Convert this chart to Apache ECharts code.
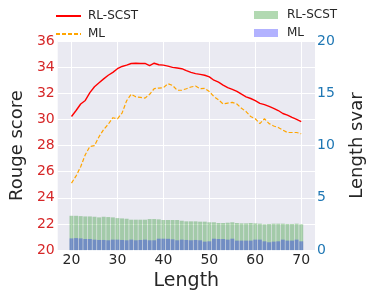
<!DOCTYPE html>
<html>
<head>
<meta charset="utf-8">
<script src="https://cdn.jsdelivr.net/npm/echarts@6/dist/echarts.min.js"></script>
<style>
html,body{margin:0;padding:0;background:#fff;}
#chart{width:374px;height:296px;}
</style>
</head>
<body>
<div id="chart"></div>
<script>
// Data
const lengths = [20,21,22,23,24,25,26,27,28,29,30,31,32,33,34,35,36,37,38,39,40,41,42,43,44,45,46,47,48,49,50,51,52,53,54,55,56,57,58,59,60,61,62,63,64,65,66,67,68,69,70];
const rougeRL = [30.22,30.68,31.18,31.45,32.05,32.5,32.8,33.1,33.38,33.6,33.88,34.05,34.15,34.28,34.3,34.28,34.28,34.12,34.3,34.18,34.15,34.08,33.98,33.93,33.88,33.73,33.6,33.5,33.45,33.38,33.25,33.0,32.85,32.63,32.43,32.3,32.15,31.93,31.73,31.6,31.43,31.23,31.13,31.0,30.85,30.68,30.45,30.33,30.15,30.0,29.83];
const rougeML = [25.12,25.68,26.38,27.3,27.93,28.0,28.68,29.23,29.63,30.13,30.05,30.48,31.43,31.93,31.73,31.68,31.63,31.92,32.35,32.4,32.43,32.73,32.6,32.23,32.23,32.35,32.48,32.55,32.35,32.38,32.13,31.75,31.5,31.18,31.25,31.3,31.18,30.85,30.6,30.22,30.05,29.68,30.05,29.68,29.5,29.38,29.18,29.0,29.0,29.0,28.9];
const svarRL = [3.28,3.28,3.25,3.22,3.22,3.19,3.13,3.19,3.16,3.13,3.06,3.03,3.0,2.91,2.91,2.91,2.91,2.97,2.97,2.94,2.88,2.88,2.88,2.88,2.81,2.75,2.75,2.75,2.72,2.72,2.66,2.66,2.59,2.59,2.62,2.66,2.59,2.56,2.56,2.59,2.56,2.53,2.47,2.5,2.53,2.53,2.53,2.5,2.5,2.53,2.47];
const svarML = [1.12,1.15,1.12,1.06,1.06,1.0,0.97,0.97,0.94,1.0,1.0,0.97,0.94,1.0,0.94,0.97,1.0,0.94,0.94,1.09,1.09,1.08,1.03,0.94,1.0,0.97,0.94,0.97,0.94,0.81,0.84,1.09,1.06,1.06,1.0,1.09,0.91,0.91,0.91,0.91,1.0,1.0,0.84,0.75,0.81,0.84,1.0,0.91,0.91,1.0,0.84];
const xTicks = [20,30,40,50,60,70];
const lineNames = ['RL-SCST','ML'];
const barNames = ['RL-SCST ','ML '];

const FONT = 'DejaVu Sans';
const chart = echarts.init(document.getElementById('chart'), null, {renderer:'canvas'});
const pair = (xs, ys) => xs.map((x,i)=>[x, ys[i]]);

chart.setOption({
  animation:false,
  backgroundColor:'#ffffff',
  textStyle:{fontFamily:FONT},
  grid:{left:45,right:45,top:41,bottom:43,show:true,backgroundColor:'#eaeaf2',borderWidth:0},
  legend:[
    {
      data:lineNames, orient:'vertical', left:50, top:5,
      itemWidth:25, itemHeight:12, itemGap:6,
      itemStyle:{opacity:0, borderWidth:0},
      textStyle:{fontFamily:FONT,fontSize:12,color:'#262626',padding:[0,0,0,2]}
    },
    {
      data:barNames, orient:'vertical', left:249, top:4,
      icon:'rect', itemWidth:24, itemHeight:8, itemGap:6,
      textStyle:{fontFamily:FONT,fontSize:12,color:'#262626',padding:[0,0,0,4]}
    }
  ],
  xAxis:{
    type:'value', min:17, max:73,
    name:'Length', nameLocation:'middle', nameGap:16,
    nameTextStyle:{fontFamily:FONT,fontSize:19,color:'#262626'},
    axisLine:{show:false}, axisTick:{show:false, customValues:xTicks},
    axisLabel:{customValues:xTicks, fontFamily:FONT, fontSize:14, color:'#262626', margin:3},
    splitLine:{show:true, lineStyle:{color:'#ffffff', width:1}}
  },
  yAxis:[
    {
      type:'value', min:20, max:36, interval:2, position:'left',
      name:'Rouge score', nameLocation:'middle', nameGap:29, nameRotate:90,
      nameTextStyle:{fontFamily:FONT,fontSize:18,color:'#262626'},
      axisLine:{show:false}, axisTick:{show:false},
      axisLabel:{fontFamily:FONT,fontSize:14,color:'#d62728',margin:3},
      splitLine:{show:true,lineStyle:{color:'#ffffff',width:1}}
    },
    {
      type:'value', min:0, max:20, interval:5, position:'right',
      name:'Length svar', nameLocation:'middle', nameGap:33, nameRotate:90,
      nameTextStyle:{fontFamily:FONT,fontSize:18,color:'#262626'},
      axisLine:{show:false}, axisTick:{show:false},
      axisLabel:{fontFamily:FONT,fontSize:14,color:'#1f77b4',margin:2},
      splitLine:{show:false}
    }
  ],
  series:[
    {
      name:barNames[0], type:'bar', xAxisIndex:0, yAxisIndex:1,
      data:pair(lengths, svarRL), barWidth:4, barGap:'-100%',
      itemStyle:{color:'rgba(0,128,0,0.3)'}, z:2
    },
    {
      name:barNames[1], type:'bar', xAxisIndex:0, yAxisIndex:1,
      data:pair(lengths, svarML), barWidth:4, barGap:'-100%',
      itemStyle:{color:'rgba(0,0,255,0.3)'}, z:3
    },
    {
      name:lineNames[0], type:'line', yAxisIndex:0, symbol:'none',
      data:pair(lengths, rougeRL),
      lineStyle:{color:'#ff0000',width:1.4}, itemStyle:{color:'#ff0000'}, z:5
    },
    {
      name:lineNames[1], type:'line', yAxisIndex:0, symbol:'none',
      data:pair(lengths, rougeML),
      lineStyle:{color:'#ffa500',width:1.2,type:[4,2]}, itemStyle:{color:'#ffa500'}, z:5
    }
  ]
});
</script>
</body>
</html>
